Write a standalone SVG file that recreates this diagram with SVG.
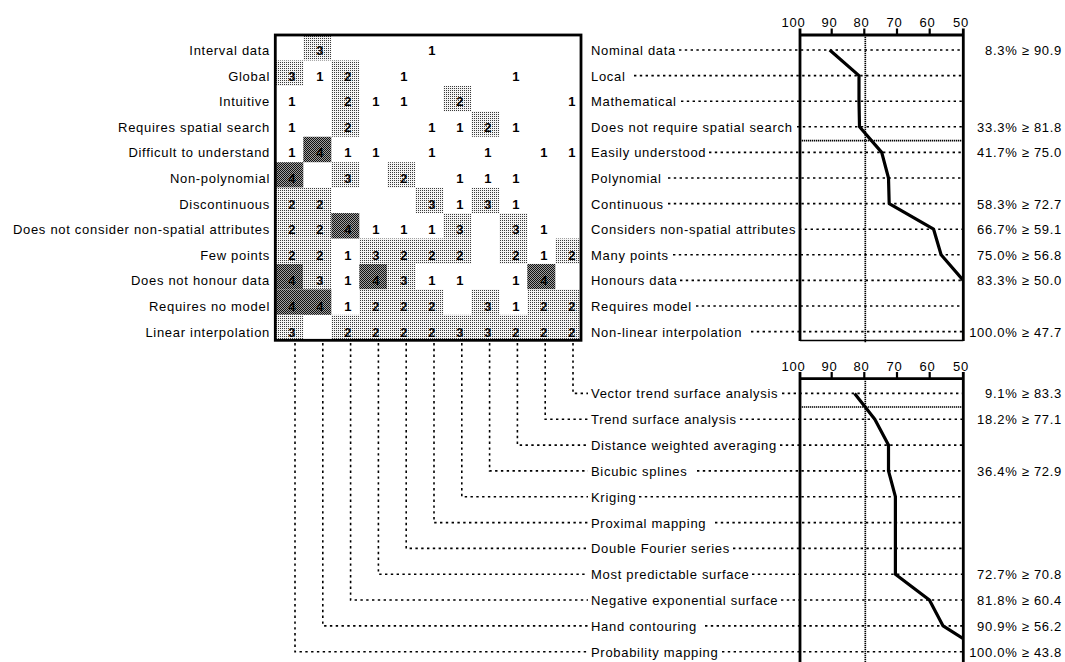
<svg xmlns="http://www.w3.org/2000/svg" width="1065" height="662" viewBox="0 0 1065 662">
<style>
  text { font-family: "Liberation Sans", Arial, Helvetica, sans-serif; font-size: 13px; fill: #000; }
  .lbl { letter-spacing: 0.7px; }
  .end { text-anchor: end; }
  .mid { text-anchor: middle; }
  .num { font-weight: bold; text-anchor: middle; }
  .lt { fill: url(#lt); }
  .dk { fill: url(#dk); }
  .dot { fill: none; stroke: #000; stroke-width: 1.6; stroke-dasharray: 2.4 3.4; }
  .fine { fill: none; stroke: #000; stroke-width: 1.7; stroke-dasharray: 1.3 0.7; }
  .frame { fill: none; stroke: #000; stroke-width: 2.8; }
  .thin { fill: none; stroke: #000; stroke-width: 1.6; }
  .tick { stroke: #000; stroke-width: 2.2; }
  .curve { fill: none; stroke: #000; stroke-width: 3.2; stroke-linejoin: round; }
</style>
<defs>
  <pattern id="lt" width="2" height="2" patternUnits="userSpaceOnUse">
    <rect width="2" height="2" fill="#f4f4f4"/>
    <rect width="1" height="1" fill="#3a3a3a"/>
  </pattern>
  <pattern id="dk" width="2" height="2" patternUnits="userSpaceOnUse">
    <rect width="2" height="2" fill="#a0a0a0"/>
    <rect width="1" height="1" fill="#111"/>
    <rect x="1" y="1" width="1" height="1" fill="#111"/>
  </pattern>
  <clipPath id="clipTop"><rect x="800" y="35" width="163.3" height="306"/></clipPath>
  <clipPath id="clipBot"><rect x="800" y="378" width="163.3" height="284"/></clipPath>
</defs>
<rect width="1065" height="662" fill="#fff"/>

<!-- attribute labels, left side -->
<g id="attr-left" class="lbl end">
  <g id="attr-interval"><text x="270" y="55">Interval data</text></g>
  <g id="attr-global"><text x="270" y="80.6">Global</text></g>
  <g id="attr-intuitive"><text x="270" y="106.2">Intuitive</text></g>
  <g id="attr-spatial-search"><text x="270" y="131.8">Requires spatial search</text></g>
  <g id="attr-difficult"><text x="270" y="157.4">Difficult to understand</text></g>
  <g id="attr-nonpoly"><text x="270" y="183">Non-polynomial</text></g>
  <g id="attr-discontinuous"><text x="270" y="208.6">Discontinuous</text></g>
  <g id="attr-no-nonspatial"><text x="270" y="234.2">Does not consider non-spatial attributes</text></g>
  <g id="attr-few-points"><text x="270" y="259.8">Few points</text></g>
  <g id="attr-no-honour"><text x="270" y="285.4">Does not honour data</text></g>
  <g id="attr-no-model"><text x="270" y="311">Requires no model</text></g>
  <g id="attr-linear"><text x="270" y="336.6">Linear interpolation</text></g>
</g>

<!-- score matrix -->
<g id="matrix">
  <g id="matrix-shading">
    <rect class="lt" x="303.3" y="35" width="28" height="25.44"/>
    <rect class="lt" x="275.3" y="60.44" width="28" height="25.44"/>
    <rect class="lt" x="331.3" y="60.44" width="28" height="25.44"/>
    <rect class="lt" x="331.3" y="85.88" width="28" height="25.44"/>
    <rect class="lt" x="443.3" y="85.88" width="28" height="25.44"/>
    <rect class="lt" x="331.3" y="111.32" width="28" height="25.44"/>
    <rect class="lt" x="471.3" y="111.32" width="28" height="25.44"/>
    <rect class="dk" x="303.3" y="136.76" width="28" height="25.44"/>
    <rect class="dk" x="275.3" y="162.2" width="28" height="25.44"/>
    <rect class="lt" x="331.3" y="162.2" width="28" height="25.44"/>
    <rect class="lt" x="387.3" y="162.2" width="28" height="25.44"/>
    <rect class="lt" x="275.3" y="187.64" width="56" height="25.44"/>
    <rect class="lt" x="415.3" y="187.64" width="28" height="25.44"/>
    <rect class="lt" x="471.3" y="187.64" width="28" height="25.44"/>
    <rect class="lt" x="275.3" y="213.08" width="56" height="25.44"/>
    <rect class="dk" x="331.3" y="213.08" width="28" height="25.44"/>
    <rect class="lt" x="443.3" y="213.08" width="28" height="25.44"/>
    <rect class="lt" x="499.3" y="213.08" width="28" height="25.44"/>
    <rect class="lt" x="275.3" y="238.52" width="56" height="25.44"/>
    <rect class="lt" x="359.3" y="238.52" width="112" height="25.44"/>
    <rect class="lt" x="499.3" y="238.52" width="28" height="25.44"/>
    <rect class="lt" x="555.3" y="238.52" width="25.7" height="25.44"/>
    <rect class="dk" x="275.3" y="263.96" width="28" height="25.44"/>
    <rect class="lt" x="303.3" y="263.96" width="28" height="25.44"/>
    <rect class="dk" x="359.3" y="263.96" width="28" height="25.44"/>
    <rect class="lt" x="387.3" y="263.96" width="28" height="25.44"/>
    <rect class="dk" x="527.3" y="263.96" width="28" height="25.44"/>
    <rect class="dk" x="275.3" y="289.4" width="56" height="25.44"/>
    <rect class="lt" x="359.3" y="289.4" width="84" height="25.44"/>
    <rect class="lt" x="471.3" y="289.4" width="28" height="25.44"/>
    <rect class="lt" x="527.3" y="289.4" width="53.7" height="25.44"/>
    <rect class="lt" x="275.3" y="314.84" width="28" height="25.44"/>
    <rect class="lt" x="331.3" y="314.84" width="249.7" height="25.44"/>
  </g>
  <g id="matrix-values">
    <text class="num" x="319.8" y="55">3</text><text class="num" x="431.8" y="55">1</text>
    <text class="num" x="291.8" y="80.6">3</text><text class="num" x="319.8" y="80.6">1</text><text class="num" x="347.8" y="80.6">2</text><text class="num" x="403.8" y="80.6">1</text><text class="num" x="515.8" y="80.6">1</text>
    <text class="num" x="291.8" y="106.2">1</text><text class="num" x="347.8" y="106.2">2</text><text class="num" x="375.8" y="106.2">1</text><text class="num" x="403.8" y="106.2">1</text><text class="num" x="459.8" y="106.2">2</text><text class="num" x="571.8" y="106.2">1</text>
    <text class="num" x="291.8" y="131.8">1</text><text class="num" x="347.8" y="131.8">2</text><text class="num" x="431.8" y="131.8">1</text><text class="num" x="459.8" y="131.8">1</text><text class="num" x="487.8" y="131.8">2</text><text class="num" x="515.8" y="131.8">1</text>
    <text class="num" x="291.8" y="157.4">1</text><text class="num" x="319.8" y="157.4">4</text><text class="num" x="347.8" y="157.4">1</text><text class="num" x="375.8" y="157.4">1</text><text class="num" x="431.8" y="157.4">1</text><text class="num" x="487.8" y="157.4">1</text><text class="num" x="543.8" y="157.4">1</text><text class="num" x="571.8" y="157.4">1</text>
    <text class="num" x="291.8" y="183">4</text><text class="num" x="347.8" y="183">3</text><text class="num" x="403.8" y="183">2</text><text class="num" x="459.8" y="183">1</text><text class="num" x="487.8" y="183">1</text><text class="num" x="515.8" y="183">1</text>
    <text class="num" x="291.8" y="208.6">2</text><text class="num" x="319.8" y="208.6">2</text><text class="num" x="431.8" y="208.6">3</text><text class="num" x="459.8" y="208.6">1</text><text class="num" x="487.8" y="208.6">3</text><text class="num" x="515.8" y="208.6">1</text>
    <text class="num" x="291.8" y="234.2">2</text><text class="num" x="319.8" y="234.2">2</text><text class="num" x="347.8" y="234.2">4</text><text class="num" x="375.8" y="234.2">1</text><text class="num" x="403.8" y="234.2">1</text><text class="num" x="431.8" y="234.2">1</text><text class="num" x="459.8" y="234.2">3</text><text class="num" x="515.8" y="234.2">3</text><text class="num" x="543.8" y="234.2">1</text>
    <text class="num" x="291.8" y="259.8">2</text><text class="num" x="319.8" y="259.8">2</text><text class="num" x="347.8" y="259.8">1</text><text class="num" x="375.8" y="259.8">3</text><text class="num" x="403.8" y="259.8">2</text><text class="num" x="431.8" y="259.8">2</text><text class="num" x="459.8" y="259.8">2</text><text class="num" x="515.8" y="259.8">2</text><text class="num" x="543.8" y="259.8">1</text><text class="num" x="571.8" y="259.8">2</text>
    <text class="num" x="291.8" y="285.4">4</text><text class="num" x="319.8" y="285.4">3</text><text class="num" x="347.8" y="285.4">1</text><text class="num" x="375.8" y="285.4">4</text><text class="num" x="403.8" y="285.4">3</text><text class="num" x="431.8" y="285.4">1</text><text class="num" x="459.8" y="285.4">1</text><text class="num" x="515.8" y="285.4">1</text><text class="num" x="543.8" y="285.4">4</text>
    <text class="num" x="291.8" y="311">4</text><text class="num" x="319.8" y="311">4</text><text class="num" x="347.8" y="311">1</text><text class="num" x="375.8" y="311">2</text><text class="num" x="403.8" y="311">2</text><text class="num" x="431.8" y="311">2</text><text class="num" x="487.8" y="311">3</text><text class="num" x="515.8" y="311">1</text><text class="num" x="543.8" y="311">2</text><text class="num" x="571.8" y="311">2</text>
    <text class="num" x="291.8" y="336.6">3</text><text class="num" x="347.8" y="336.6">2</text><text class="num" x="375.8" y="336.6">2</text><text class="num" x="403.8" y="336.6">2</text><text class="num" x="431.8" y="336.6">2</text><text class="num" x="459.8" y="336.6">3</text><text class="num" x="487.8" y="336.6">3</text><text class="num" x="515.8" y="336.6">2</text><text class="num" x="543.8" y="336.6">2</text><text class="num" x="571.8" y="336.6">2</text>
  </g>
  <rect class="frame" x="275.3" y="35" width="305.7" height="305.3"/>
</g>

<!-- attribute labels, right side -->
<g id="attr-right" class="lbl">
  <g id="attr-nominal"><text x="591" y="55">Nominal data</text></g>
  <g id="attr-local"><text x="591" y="80.6">Local</text></g>
  <g id="attr-mathematical"><text x="591" y="106.2">Mathematical</text></g>
  <g id="attr-no-spatial-search"><text x="591" y="131.8">Does not require spatial search</text></g>
  <g id="attr-easy"><text x="591" y="157.4">Easily understood</text></g>
  <g id="attr-poly"><text x="591" y="183">Polynomial</text></g>
  <g id="attr-continuous"><text x="591" y="208.6">Continuous</text></g>
  <g id="attr-nonspatial"><text x="591" y="234.2">Considers non-spatial attributes</text></g>
  <g id="attr-many-points"><text x="591" y="259.8">Many points</text></g>
  <g id="attr-honours"><text x="591" y="285.4">Honours data</text></g>
  <g id="attr-model"><text x="591" y="311">Requires model</text></g>
  <g id="attr-nonlinear"><text x="591" y="336.6">Non-linear interpolation</text></g>
</g>

<!-- method labels -->
<g id="methods" class="lbl">
  <g id="m-vector-trend"><text x="591" y="398.4">Vector trend surface analysis</text></g>
  <g id="m-trend"><text x="591" y="424.2">Trend surface analysis</text></g>
  <g id="m-distance"><text x="591" y="450.1">Distance weighted averaging</text></g>
  <g id="m-bicubic"><text x="591" y="475.9">Bicubic splines</text></g>
  <g id="m-kriging"><text x="591" y="501.7">Kriging</text></g>
  <g id="m-proximal"><text x="591" y="527.6">Proximal mapping</text></g>
  <g id="m-fourier"><text x="591" y="553.4">Double Fourier series</text></g>
  <g id="m-predictable"><text x="591" y="579.2">Most predictable surface</text></g>
  <g id="m-negexp"><text x="591" y="605">Negative exponential surface</text></g>
  <g id="m-hand"><text x="591" y="630.9">Hand contouring</text></g>
  <g id="m-probability"><text x="591" y="656.7">Probability mapping</text></g>
</g>

<!-- connectors: matrix columns to methods, and dotted leaders -->
<g id="connectors">
  <path class="dot" d="M573 343V393.4H588"/>
  <path class="dot" d="M545.2 343V419.2H588"/>
  <path class="dot" d="M517.4 343V445.1H588"/>
  <path class="dot" d="M489.6 343V470.9H588"/>
  <path class="dot" d="M461.8 343V496.7H588"/>
  <path class="dot" d="M434 343V522.6H588"/>
  <path class="dot" d="M406.2 343V548.4H588"/>
  <path class="dot" d="M378.4 343V574.2H588"/>
  <path class="dot" d="M350.6 343V600H588"/>
  <path class="dot" d="M322.8 343V625.9H588"/>
  <path class="dot" d="M295 343V651.7H588"/>
  <!-- leaders, upper chart -->
  <path class="dot" d="M679 50H963"/>
  <path class="dot" d="M634 75.6H963"/>
  <path class="dot" d="M681 101.2H963"/>
  <path class="dot" d="M797 126.8H963"/>
  <path class="dot" d="M709 152.4H963"/>
  <path class="dot" d="M668 178H963"/>
  <path class="dot" d="M668 203.6H963"/>
  <path class="dot" d="M799 229.2H963"/>
  <path class="dot" d="M673 254.8H963"/>
  <path class="dot" d="M680 280.4H963"/>
  <path class="dot" d="M696 306H963"/>
  <path class="dot" d="M751 331.6H963"/>
  <!-- leaders, lower chart -->
  <path class="dot" d="M782 393.4H963"/>
  <path class="dot" d="M740 419.2H963"/>
  <path class="dot" d="M780 445.1H963"/>
  <path class="dot" d="M697 470.9H963"/>
  <path class="dot" d="M639 496.7H963"/>
  <path class="dot" d="M715 522.6H963"/>
  <path class="dot" d="M733 548.4H963"/>
  <path class="dot" d="M752 574.2H963"/>
  <path class="dot" d="M781 600H963"/>
  <path class="dot" d="M705 625.9H963"/>
  <path class="dot" d="M722 651.7H963"/>
</g>

<!-- upper chart -->
<g id="chart-top">
  <g class="mid lbl">
    <text x="793.5" y="27">100</text><text x="829.5" y="27">90</text><text x="861.5" y="27">80</text>
    <text x="894.5" y="27">70</text><text x="927.5" y="27">60</text><text x="961" y="27">50</text>
  </g>
  <path class="tick" d="M831.7 28.5V35M864.3 28.5V35M897 28.5V35M929.7 28.5V35"/>
  <path class="frame" d="M800 28.5V341M963.3 28.5V341M800 35H963.3"/>
  <path class="thin" d="M800 340.5H963.3"/>
  <path class="fine" d="M865.3 35V343"/>
  <path class="fine" d="M800 140.6H963.3"/>
  <polyline class="curve" clip-path="url(#clipTop)" points="829.7,50 859,75.6 859,101.2 859.5,126.8 881.7,152.4 888.5,178 889.2,203.6 933.6,229.2 941.1,254.8 963.3,280.4"/>
  <g class="end lbl">
    <text x="1062" y="55">8.3% ≥ 90.9</text>
    <text x="1062" y="131.8">33.3% ≥ 81.8</text>
    <text x="1062" y="157.4">41.7% ≥ 75.0</text>
    <text x="1062" y="208.6">58.3% ≥ 72.7</text>
    <text x="1062" y="234.2">66.7% ≥ 59.1</text>
    <text x="1062" y="259.8">75.0% ≥ 56.8</text>
    <text x="1062" y="285.4">83.3% ≥ 50.0</text>
    <text x="1062" y="336.6">100.0% ≥ 47.7</text>
  </g>
</g>

<!-- lower chart -->
<g id="chart-bottom">
  <g class="mid lbl">
    <text x="793.5" y="371">100</text><text x="829.5" y="371">90</text><text x="861.5" y="371">80</text>
    <text x="894.5" y="371">70</text><text x="927.5" y="371">60</text><text x="961" y="371">50</text>
  </g>
  <path class="tick" d="M831.7 372V378.7M864.3 372V378.7M897 372V378.7M929.7 372V378.7"/>
  <path class="frame" d="M800 372V662M963.3 372V662M800 378.7H963.3"/>
  <path class="fine" d="M865.3 378.7V662"/>
  <path class="fine" d="M800 407H963.3"/>
  <polyline class="curve" clip-path="url(#clipBot)" points="854.6,393.4 874.8,419.2 888.5,445.1 888.5,470.9 895.4,496.7 895.4,522.6 895.4,548.4 895.4,574.2 929.4,600 943.1,625.9 983.6,651.7"/>
  <g class="end lbl">
    <text x="1062" y="398.4">9.1% ≥ 83.3</text>
    <text x="1062" y="424.2">18.2% ≥ 77.1</text>
    <text x="1062" y="475.9">36.4% ≥ 72.9</text>
    <text x="1062" y="579.2">72.7% ≥ 70.8</text>
    <text x="1062" y="605">81.8% ≥ 60.4</text>
    <text x="1062" y="630.9">90.9% ≥ 56.2</text>
    <text x="1062" y="656.7">100.0% ≥ 43.8</text>
  </g>
</g>
</svg>
